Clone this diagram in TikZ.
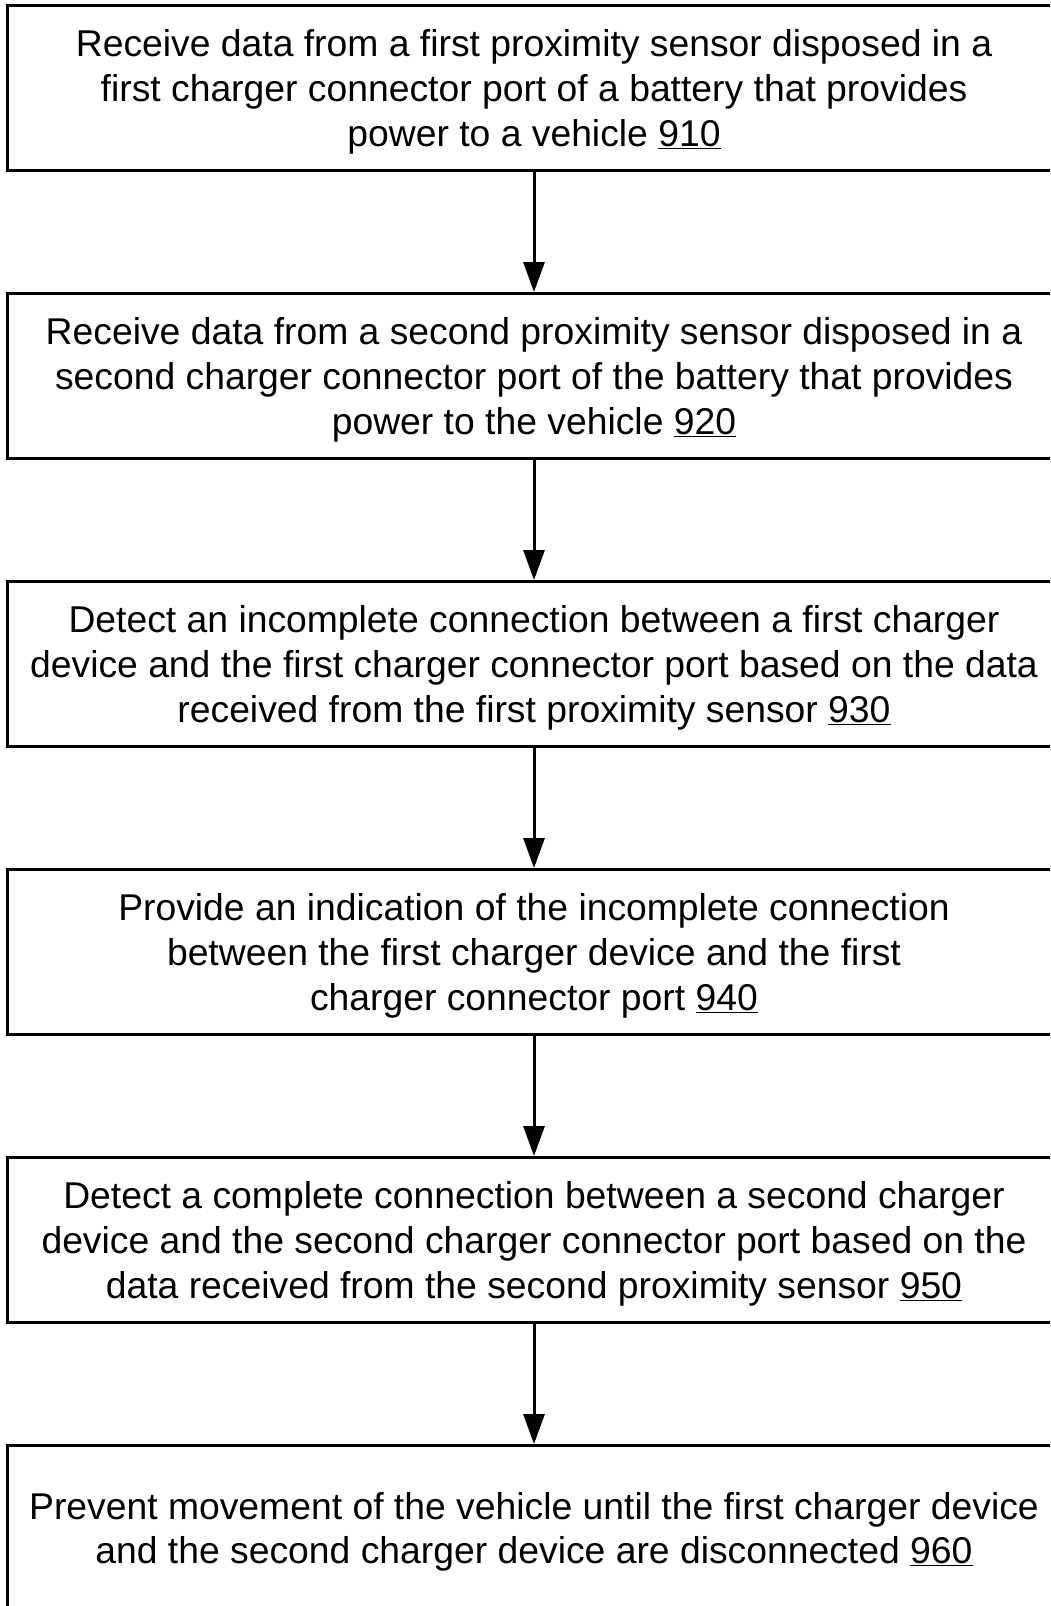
\documentclass[tikz,border=0pt]{standalone}
\usepackage{fontspec}
\setmainfont{Liberation Sans}
\usetikzlibrary{arrows.meta}
\newcommand\stepnum[1]{\underline{#1}}
\tikzset{
  stepbox/.style={draw, line width=3pt, minimum width=1053.5pt, minimum height=164.5pt, inner sep=0pt},
  steptext/.style={align=center, inner sep=0pt, font=\fontsize{37.3pt}{44.8pt}\selectfont},
  flow/.style={line width=3pt, -{Triangle[width=21pt,length=30pt]}}
}
\begin{document}
\begin{tikzpicture}[x=1pt,y=-1pt]
\useasboundingbox (0,0) rectangle (1050,1606);
\clip (0,0) rectangle (1050,1606);
% process boxes
\node[stepbox] (s910) at (534,87.75) {};
\node[stepbox] (s920) at (534,375.75) {};
\node[stepbox] (s930) at (534,663.75) {};
\node[stepbox] (s940) at (534,951.75) {};
\node[stepbox] (s950) at (534,1239.75) {};
\node[stepbox] (s960) at (534,1527.75) {};
% box texts
\node[steptext] (t910) at ([yshift=-4pt]s910.center) {Receive data from a first proximity sensor disposed in a\\first charger connector port of a battery that provides\\power to a vehicle \stepnum{910}};
\node[steptext] (t920) at ([yshift=-4pt]s920.center) {Receive data from a second proximity sensor disposed in a\\second charger connector port of the battery that provides\\power to the vehicle \stepnum{920}};
\node[steptext] (t930) at ([yshift=-4pt]s930.center) {Detect an incomplete connection between a first charger\\device and the first charger connector port based on the data\\received from the first proximity sensor \stepnum{930}};
\node[steptext] (t940) at ([yshift=-4pt]s940.center) {Provide an indication of the incomplete connection\\between the first charger device and the first\\charger connector port \stepnum{940}};
\node[steptext] (t950) at ([yshift=-4pt]s950.center) {Detect a complete connection between a second charger\\device and the second charger connector port based on the\\data received from the second proximity sensor \stepnum{950}};
\node[steptext] (t960) at ([yshift=-4pt]s960.center) {Prevent movement of the vehicle until the first charger device\\and the second charger device are disconnected \stepnum{960}};
% connectors
\foreach \a/\b in {s910/s920, s920/s930, s930/s940, s940/s950, s950/s960}
  \draw[flow] (\a.south) -- (\b.north);
\end{tikzpicture}
\end{document}
